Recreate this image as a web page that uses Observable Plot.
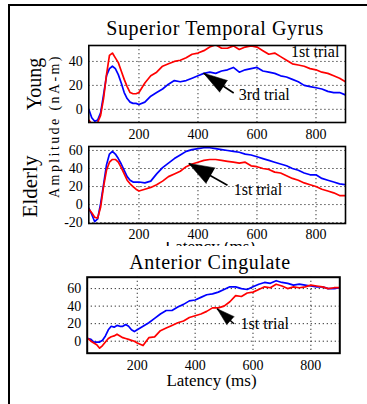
<!DOCTYPE html>
<html><head><meta charset="utf-8">
<script src="https://cdn.jsdelivr.net/npm/d3@7"></script>
<script src="https://cdn.jsdelivr.net/npm/@observablehq/plot@0.6"></script>
<style>
body{margin:0;background:#fff;}
#root{position:relative;width:367px;height:404px;overflow:hidden;font-family:"Liberation Serif",serif;color:#000;background:#fff;}
.t{position:absolute;white-space:nowrap;line-height:1;font-family:"Liberation Serif",serif;}
.p{position:absolute;left:0;}
.p text{font-family:"Liberation Serif",serif;}
</style></head><body><div id="root"></div>
<script>
// ---------- data ----------
const latency = [30,40,50,60,70,80,90,100,110,120,130,140,150,160,170,180,190,200,
  220,240,260,280,300,320,340,360,380,400,420,440,460,480,500,520,540,560,580,600,
  620,640,660,680,700,720,740,760,780,800,820,840,860,880,900];

const youngFirst = [-9,-12,-13,-11,-5,9,29,45,47,43,39,32,25,19,14,13,13,14,
  22,28,31,36,38,40,41,43,46,47,49,52,54,51,51,53,50,52,53,52,
  49,46,47,44,41,38,37,36,34,33,31,30,28,26,23];
const youngThird = [0,-7,-10,-9,-3,12,28,34,36,34,29,22,14,9,6,5,5,4,
  6,11,14,17,21,24,23,24,26,28,30,31,30,32,33,35,31,33,34,35,
  32,31,30,28,27,25,23,20,19,18,17,15,14,14,12];

const elderlyFirst = [-5,-9,-14,-15,-3,20,38,47,50,50,47,41,34,27,23,20,17,15,
  17,19,22,26,31,34,37,42,45,47,49,50,50,49,48,47,46,47,43,42,
  40,39,36,35,32,29,27,24,22,20,17,15,13,10,10];
const elderlyThird = [-4,-11,-19,-16,1,22,44,56,59,56,51,45,38,31,27,25,25,25,
  24,26,34,41,46,51,55,59,61,62,63,63,62,61,60,59,58,56,55,53,
  51,49,47,45,43,40,38,35,33,33,29,27,25,23,22];

const cingFirst = [3,0,-2,-4,-8,-5,-1,3,5,6,8,6,4,3,2,1,0,-2,
  -5,4,5,12,15,18,21,23,27,29,31,34,38,38,40,45,52,51,55,56,
  59,62,61,65,63,60,62,61,62,64,63,62,60,61,61];
const cingThird = [3,2,-1,-1,-1,1,6,13,17,16,18,17,17,19,17,13,11,13,
  17,21,26,31,35,35,39,42,46,47,50,53,54,56,59,62,62,60,59,62,
  65,67,66,69,67,66,64,65,64,63,62,62,60,60,61];

const xTicks = [200,400,600,800];
const youngTicks = [0,20,40];
const elderlyTicks = [-20,0,20,40,60];
const cingTicks = [0,20,40,60];

const panelTitles = ["Superior Temporal Gyrus","Anterior Cingulate"];
const groupLabels = ["Young","Elderly"];
const yAxisLabel = "Amplitude (nA-m)";
const xAxisLabel = "Latency (ms)";

// annotations: label position and arrow (tail -> tip) in data units
const youngNotes = [{text:"1st trial", x:715, y:47.6},{text:"3rd trial", x:538, y:12.1}];
const youngArrow = {x1:521, y1:13.6, x2:419, y2:30.2, len:24, r:7};
const elderlyNotes = [{text:"1st trial", x:521, y:16}];
const elderlyArrow = {x1:500, y1:21.4, x2:369, y2:45.6, len:25, r:9};
const cingNotes = [{text:"1st trial", x:557, y:20.3}];
const cingArrow = {x1:534, y1:19.9, x2:476, y2:37, len:18, r:5.5};

// ---------- drawing ----------
const root = document.getElementById("root");
const W = 367;
const FONT = "Liberation Serif, serif";

function addText(txt, {cx, baseline, fs, rotate=false, ls=0, cy, parent=root, offX=0, offY=0}) {
  const d = document.createElement("div");
  d.className = "t";
  d.textContent = txt;
  d.style.fontSize = fs + "px";
  if (ls) d.style.letterSpacing = ls + "px";
  parent.appendChild(d);
  const w = d.getBoundingClientRect().width;
  if (!rotate) {
    d.style.left = (cx - w/2 - offX) + "px";
    d.style.top = (baseline - 0.8375*fs - offY) + "px";
  } else {
    const left = baseline - 0.8375*fs;
    const centerX = left + fs/2;
    d.style.left = (centerX - w/2) + "px";
    d.style.top = (cy - fs/2) + "px";
    d.style.transformOrigin = "50% 50%";
    d.style.transform = "rotate(-90deg)";
  }
  return d;
}

function panel({top, height, mL, mR, mT, mB, xDomain, yDomain, yTicks, first, third, notes, arrow, frameW=1.6, pad=7}) {
  const rows = [];
  latency.forEach((t,i) => rows.push({t, v: third[i], trial: "3rd"}));
  latency.forEach((t,i) => rows.push({t, v: first[i], trial: "1st"}));
  const xs = d3.scaleLinear(xDomain, [mL, W - mR]);
  const ys = d3.scaleLinear(yDomain, [height - mB, mT]);
  const ang = Math.atan2(xs(arrow.x2) - xs(arrow.x1), -(ys(arrow.y2) - ys(arrow.y1))) * 180 / Math.PI;
  const svg = Plot.plot({
    width: W, height,
    marginLeft: mL, marginRight: mR, marginTop: mT, marginBottom: mB,
    x: {domain: xDomain},
    y: {domain: yDomain},
    color: {domain: ["1st","3rd"], range: ["#ff0000","#0000ff"]},
    style: {fontFamily: FONT, fontSize: "14px", background: "transparent", overflow: "visible", color: "#000"},
    marks: [
      Plot.gridX(xTicks, {stroke: "#222", strokeOpacity: 0.9, strokeDasharray: "1.3,2.7", strokeWidth: 1}),
      Plot.gridY(yTicks, {stroke: "#222", strokeOpacity: 0.9, strokeDasharray: "1.3,2.7", strokeWidth: 1}),
      Plot.text(notes, {x: "x", y: "y", text: "text", textAnchor: "start", fontSize: 16, fontFamily: FONT, fill: "#000"}),
      Plot.line(rows, {x: "t", y: "v", z: "trial", stroke: "trial", strokeWidth: 1.7, clip: true}),
      Plot.link([arrow], {x1: "x1", y1: "y1", x2: "x2", y2: "y2", stroke: "#000", strokeWidth: 1.6}),
      Plot.vector([arrow], {x: "x2", y: "y2", rotate: ang, length: arrow.len, r: arrow.r, shape: "spike", anchor: "end", fill: "#000", stroke: "#000", strokeWidth: 0.5}),
      Plot.frame({stroke: "#000", strokeWidth: frameW}),
      Plot.axisX(xTicks, {tickSize: 0, tickPadding: pad, label: null, fontFamily: FONT, fontSize: 14, tickFormat: d => String(d)}),
      Plot.axisY(yTicks, {tickSize: 0, tickPadding: 6, label: null, fontFamily: FONT, fontSize: 14, tickFormat: d => String(d)})
    ]
  });
  svg.classList.add("p");
  svg.style.top = top + "px";
  root.appendChild(svg);
}

// outer border
const border = document.createElement("div");
Object.assign(border.style, {position:"absolute", left:"8px", top:"4px", width:"400px", height:"420px",
  borderLeft:"2.5px solid #000", borderTop:"2.5px solid #000"});
root.appendChild(border);

addText(panelTitles[0], {cx: 215, baseline: 35, fs: 20, ls: 0.6});
addText(groupLabels[0], {baseline: 41, cy: 84, fs: 20, rotate: true});
addText(groupLabels[1], {baseline: 38, cy: 186, fs: 21, rotate: true});
addText(yAxisLabel, {baseline: 59.5, cy: 126, fs: 14, rotate: true, ls: 2.4});

panel({top: 0, height: 140, mL: 88.3, mR: 22, mT: 45, mB: 18,
  xDomain: [30, 900], yDomain: [-11, 53.3], yTicks: youngTicks,
  first: youngFirst, third: youngThird, notes: youngNotes, arrow: youngArrow});

panel({top: 140, height: 110, mL: 88.3, mR: 22, mT: 6, mB: 27,
  xDomain: [30, 900], yDomain: [-21, 64.4], yTicks: elderlyTicks,
  first: elderlyFirst, third: elderlyThird, notes: elderlyNotes, arrow: elderlyArrow, pad: 6});

// partially hidden x label of the Elderly panel: only its top slice shows
const clipBox = document.createElement("div");
Object.assign(clipBox.style, {position:"absolute", left:"150px", top:"242px", width:"125px", height:"3.5px", overflow:"hidden"});
root.appendChild(clipBox);
addText(xAxisLabel, {cx: 210, baseline: 252.5, fs: 17, parent: clipBox, offX: 150, offY: 242});

addText(panelTitles[1], {cx: 210, baseline: 268.3, fs: 20, ls: 0.6});

panel({top: 260, height: 110, mL: 86.7, mR: 27.7, mT: 16.7, mB: 17.3,
  xDomain: [27, 900], yDomain: [-13.7, 73], yTicks: cingTicks,
  first: cingFirst, third: cingThird, notes: cingNotes, arrow: cingArrow, frameW: 2});

addText(xAxisLabel, {cx: 211.5, baseline: 386.7, fs: 17});
</script>
</body></html>
